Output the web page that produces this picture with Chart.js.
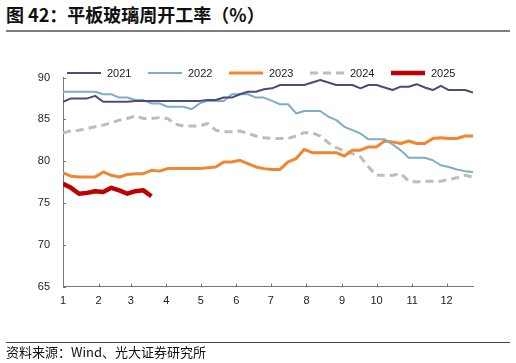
<!DOCTYPE html>
<html>
<head>
<meta charset="utf-8">
<script src="https://cdn.jsdelivr.net/npm/chart.js@4.4.1/dist/chart.umd.min.js"></script>
<style>
  html, body { margin: 0; padding: 0; background: #fff; }
  body { width: 516px; height: 363px; position: relative; overflow: hidden; font-family: "Noto Sans CJK SC", sans-serif; }
  #title { position: absolute; left: 6px; top: 2px; font-size: 18px; font-weight: bold; color: #111; line-height: 24px; white-space: nowrap; }
  #titleRule { position: absolute; left: 6px; top: 30px; width: 504px; height: 2px; background: #7f7f7f; }
  #chart { position: absolute; left: 0; top: 0; }
  #sourceRule { position: absolute; left: 6px; top: 342px; width: 504px; height: 1px; background: #444; }
  #source { position: absolute; left: 6px; top: 344px; font-size: 13px; color: #111; line-height: 16px; white-space: nowrap; }
</style>
</head>
<body>
<div id="title">图 42：平板玻璃周开工率（%）</div>
<div id="titleRule"></div>
<canvas id="chart" width="516" height="363"></canvas>
<div id="sourceRule"></div>
<div id="source">资料来源：Wind、光大证券研究所</div>

<script>
// weekly operating rate, one value per week of the year
const years = ["2021", "2022", "2023", "2024", "2025"];

const rate2021 = [87.1, 87.5, 87.5, 87.5, 87.8, 87.1, 87.1, 87.1, 87.1, 87.2, 87.2, 87.2, 87.2,
  87.2, 87.2, 87.2, 87.2, 87.2, 87.3, 87.3, 87.6, 87.6, 88.0, 88.3, 88.3, 88.6, 88.7,
  89.1, 89.1, 89.1, 89.1, 89.4, 89.7, 89.4, 89.1, 89.1, 89.1, 88.7, 89.1, 89.1, 88.8,
  88.5, 88.9, 88.9, 89.2, 88.8, 88.5, 89.0, 88.5, 88.5, 88.5, 88.2];

const rate2022 = [88.3, 88.3, 88.3, 88.3, 88.3, 88.0, 88.0, 87.6, 87.6, 87.3, 87.3, 86.9, 86.9,
  86.5, 86.5, 86.5, 86.2, 86.9, 87.2, 87.2, 87.2, 88.0, 88.0, 88.0, 87.6, 87.6, 87.2,
  86.8, 86.8, 85.7, 86.0, 86.0, 86.0, 85.3, 84.9, 84.1, 83.7, 83.3, 82.6, 82.6, 82.6,
  82.0, 81.3, 80.4, 80.4, 80.4, 80.1, 79.5, 79.3, 79.0, 78.8, 78.7];

const rate2023 = [78.6, 78.2, 78.1, 78.1, 78.1, 78.7, 78.3, 78.1, 78.4, 78.5, 78.5, 78.9, 78.8,
  79.1, 79.1, 79.1, 79.1, 79.1, 79.2, 79.3, 79.9, 79.9, 80.1, 79.7, 79.3, 79.1, 79.0,
  79.0, 79.9, 80.3, 81.4, 81.0, 81.0, 81.0, 81.0, 80.6, 81.3, 81.3, 81.7, 81.7, 82.4,
  82.3, 82.1, 82.4, 82.1, 82.1, 82.7, 82.8, 82.7, 82.7, 83.0, 83.0];

const rate2024 = [83.4, 83.6, 83.7, 83.9, 84.1, 84.3, 84.6, 84.9, 85.1, 85.4, 85.1, 85.1, 85.2,
  85.1, 84.4, 84.2, 84.2, 84.2, 84.5, 83.7, 83.5, 83.5, 83.6, 83.3, 83.0, 82.8, 82.7,
  82.7, 82.7, 83.0, 83.4, 83.4, 83.0, 82.2, 81.6, 81.2, 80.9, 80.5, 79.3, 78.3, 78.3,
  78.3, 78.5, 77.6, 77.5, 77.6, 77.6, 77.6, 77.8, 78.0, 78.3, 78.1];

const rate2025 = [77.3, 76.8, 76.1, 76.2, 76.4, 76.3, 76.8, 76.5, 76.1, 76.4, 76.5, 75.8];

// x axis is day of year; ticks sit on the first day of each month
const monthStartDays = [0, 31, 59, 90, 120, 151, 181, 212, 243, 273, 304, 334];
const monthLabels = ["1", "2", "3", "4", "5", "6", "7", "8", "9", "10", "11", "12"];
const yTicks = [65, 70, 75, 80, 85, 90];

const axisColor = "#777";
const tickFont = { family: "'Liberation Sans', Arial, sans-serif", size: 11 };

function toPoints(values) {
  return values.map((v, i) => ({ x: i * 7, y: v }));
}

const lineStyle = {
  pointRadius: 0,
  pointHoverRadius: 0,
  fill: false,
  tension: 0,
  borderJoinStyle: "round",
};

// small inward tick marks on both axes
const innerTicks = {
  id: "innerTicks",
  afterDraw(chart) {
    const ctx = chart.ctx;
    const x = chart.scales.x;
    const y = chart.scales.y;
    const area = chart.chartArea;
    ctx.save();
    ctx.strokeStyle = axisColor;
    ctx.lineWidth = 1;
    ctx.beginPath();
    y.ticks.forEach((t) => {
      const py = Math.round(y.getPixelForValue(t.value)) + 0.5;
      ctx.moveTo(area.left, py);
      ctx.lineTo(area.left + 3, py);
    });
    x.ticks.forEach((t) => {
      const px = Math.round(x.getPixelForValue(t.value)) + 0.5;
      ctx.moveTo(px, area.bottom);
      ctx.lineTo(px, area.bottom - 3);
    });
    ctx.stroke();
    ctx.restore();
  },
};

// legend with line samples, drawn in one row above the plot
const lineLegend = {
  id: "lineLegend",
  afterDraw(chart) {
    const ctx = chart.ctx;
    const startX = 67;
    const pitch = 81;
    const sampleLen = 34;
    const ly = 73;
    ctx.save();
    ctx.font = "11px 'Liberation Sans', Arial, sans-serif";
    ctx.textBaseline = "middle";
    chart.data.datasets.forEach((ds, i) => {
      const x0 = startX + i * pitch;
      ctx.strokeStyle = ds.borderColor;
      ctx.lineWidth = ds.borderWidth;
      ctx.setLineDash(ds.borderDash || []);
      ctx.lineCap = "butt";
      ctx.beginPath();
      ctx.moveTo(x0, ly);
      ctx.lineTo(x0 + sampleLen, ly);
      ctx.stroke();
      ctx.setLineDash([]);
      ctx.fillStyle = "#222";
      ctx.fillText(ds.label, x0 + sampleLen + 6, ly + 1);
    });
    ctx.restore();
  },
};

const ctx = document.getElementById("chart").getContext("2d");
new Chart(ctx, {
  type: "line",
  data: {
    datasets: [
      { ...lineStyle, label: years[0], data: toPoints(rate2021), borderColor: "#4e4b74", borderWidth: 2 },
      { ...lineStyle, label: years[1], data: toPoints(rate2022), borderColor: "#7eaec6", borderWidth: 2 },
      { ...lineStyle, label: years[2], data: toPoints(rate2023), borderColor: "#f28530", borderWidth: 3 },
      { ...lineStyle, label: years[3], data: toPoints(rate2024), borderColor: "#bdbdbd", borderWidth: 3, borderDash: [8, 5] },
      { ...lineStyle, label: years[4], data: toPoints(rate2025), borderColor: "#c00000", borderWidth: 4.5 },
    ],
  },
  options: {
    responsive: false,
    animation: false,
    layout: { padding: { left: 0, right: 43, top: 77.5, bottom: 46.5 } },
    plugins: {
      legend: { display: false },
      tooltip: { enabled: false },
    },
    scales: {
      x: {
        type: "linear",
        min: 0,
        max: 357,
        afterBuildTicks: (scale) => {
          scale.ticks = monthStartDays.map((d) => ({ value: d }));
        },
        afterFit: (scale) => {
          scale.height = 30;
        },
        ticks: {
          autoSkip: false,
          maxRotation: 0,
          padding: 8,
          color: "#222",
          font: tickFont,
          callback: (value, index) => monthLabels[index],
        },
        grid: { display: false, drawTicks: false },
        border: { display: true, color: axisColor, width: 1 },
      },
      y: {
        min: 65,
        max: 90,
        afterBuildTicks: (scale) => {
          scale.ticks = yTicks.map((v) => ({ value: v }));
        },
        afterFit: (scale) => {
          scale.width = 63;
        },
        ticks: {
          padding: 13,
          color: "#222",
          font: tickFont,
        },
        grid: { display: false, drawTicks: false },
        border: { display: true, color: axisColor, width: 1 },
      },
    },
  },
  plugins: [innerTicks, lineLegend],
});
</script>
</body>
</html>
